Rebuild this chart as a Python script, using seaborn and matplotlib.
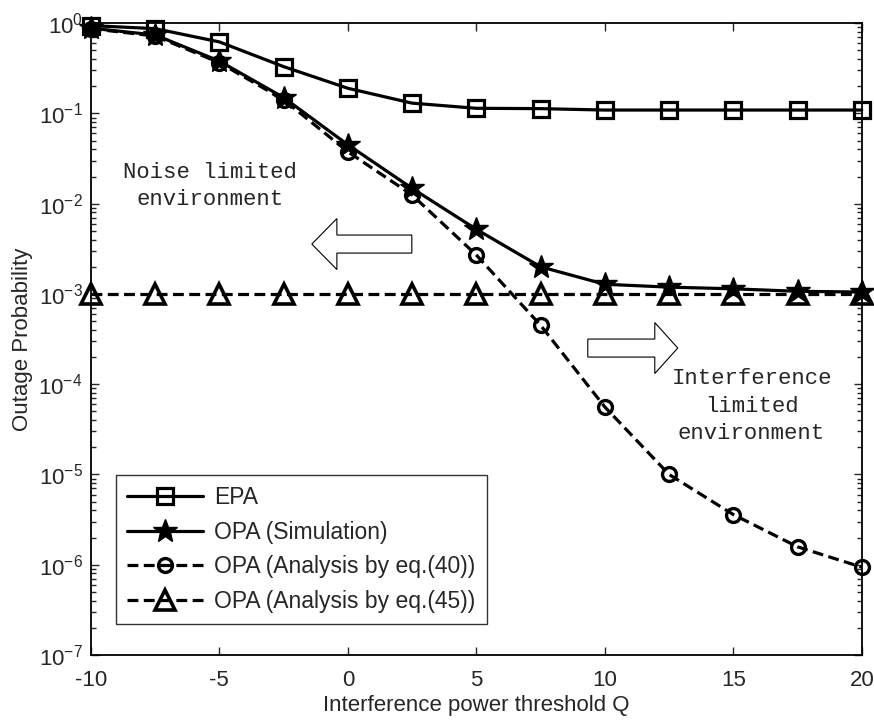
import matplotlib
matplotlib.use("Agg")
import matplotlib.pyplot as plt
import matplotlib.patches as mpatches
import seaborn as sns

# interference power threshold Q
q_values = [-10, -7.5, -5, -2.5, 0, 2.5, 5, 7.5, 10, 12.5, 15, 17.5, 20]

# outage probability for each scheme
epa = [0.94, 0.87, 0.62, 0.33, 0.19, 0.13, 0.114, 0.113, 0.109, 0.109, 0.109, 0.109, 0.109]
opa_sim = [0.88, 0.74, 0.38, 0.15, 0.045, 0.0148, 0.0052, 0.002, 0.00128, 0.00119, 0.00114, 0.00107, 0.00105]
opa_eq40 = [0.87, 0.72, 0.365, 0.142, 0.0376, 0.0125, 0.0027, 0.00045, 5.6e-5, 1.0e-5, 3.6e-6, 1.58e-6, 9.4e-7]
opa_eq45 = [1e-3, 1e-3, 1e-3, 1e-3, 1e-3, 1e-3, 1e-3, 1e-3, 1e-3, 1e-3, 1e-3, 1e-3, 1e-3]

series_labels = ["EPA", "OPA (Simulation)", "OPA (Analysis by eq.(40))", "OPA (Analysis by eq.(45))"]
xtick_values = [-10, -5, 0, 5, 10, 15, 20]

sns.set_style("ticks")
plt.rcParams['font.family'] = ['Liberation Sans', 'DejaVu Sans']
plt.rcParams['mathtext.default'] = 'regular'

fig = plt.figure(figsize=(8.74, 7.24), dpi=100)
ax = fig.add_axes([0.104, 0.0953, 0.882, 0.8727])

lw = 2.3
common = dict(color='black', linewidth=lw, clip_on=False, ax=ax)

sns.lineplot(x=q_values, y=epa, marker='s', markersize=12, markerfacecolor='none',
             markeredgecolor='black', markeredgewidth=2.3, label=series_labels[0], **common)
sns.lineplot(x=q_values, y=opa_sim, marker='*', markersize=18, markerfacecolor='black',
             markeredgecolor='black', markeredgewidth=1.0, label=series_labels[1], **common)
sns.lineplot(x=q_values, y=opa_eq40, marker='o', markersize=10, markerfacecolor='none',
             markeredgecolor='black', markeredgewidth=2.4, linestyle=(0, (3.4, 1.7)),
             label=series_labels[2], **common)
sns.lineplot(x=q_values, y=opa_eq45, marker='^', markersize=14, markerfacecolor='none',
             markeredgecolor='black', markeredgewidth=2.6, linestyle=(0, (3.4, 1.7)),
             label=series_labels[3], **common)

ax.set_yscale('log')
ax.set_xlim(-10, 20)
ax.set_ylim(1e-7, 1)
ax.set_xticks(xtick_values)
ax.set_xticklabels([str(v) for v in xtick_values])
ax.tick_params(which='both', direction='in', top=True, right=True, labelsize=16, width=1.0)
ax.tick_params(axis='x', which='major', length=6, pad=11)
ax.tick_params(axis='y', which='major', length=6, pad=6)
ax.tick_params(which='minor', length=3.5)
ax.minorticks_on()
ax.xaxis.set_minor_locator(matplotlib.ticker.NullLocator())
for s in ax.spines.values():
    s.set_linewidth(1.3)
    s.set_color('black')

ax.set_xlabel("Interference power threshold Q", fontsize=16, labelpad=3)
ax.set_ylabel("Outage Probability", fontsize=16, labelpad=4)

leg = ax.legend(loc='lower left', bbox_to_anchor=(0.032, 0.049), fontsize=16.5,
                frameon=True, fancybox=False, edgecolor='black', handlelength=3.3,
                labelspacing=0.5, borderpad=0.5, handletextpad=0.5,
                borderaxespad=0, numpoints=1)
leg.get_frame().set_linewidth(1.0)

# annotation text
mono = ['Liberation Mono', 'DejaVu Sans Mono']
ax.text(0.154, 0.742, "Noise limited\nenvironment", transform=ax.transAxes,
        ha='center', va='center', fontsize=16, family=mono, linespacing=1.4)
ax.text(0.857, 0.394, "Interference\nlimited\nenvironment", transform=ax.transAxes,
        ha='center', va='center', fontsize=16, family=mono, linespacing=1.4)

# hollow arrows
left_arrow = mpatches.FancyArrow(0.4163, 0.6504, -0.1297, 0, width=0.0285, head_width=0.0807,
                                 head_length=0.0325, length_includes_head=True,
                                 transform=ax.transAxes, facecolor='white',
                                 edgecolor='black', linewidth=0.8)
right_arrow = mpatches.FancyArrow(0.6446, 0.4858, 0.1167, 0, width=0.0285, head_width=0.0807,
                                  head_length=0.0298, length_includes_head=True,
                                  transform=ax.transAxes, facecolor='white',
                                  edgecolor='black', linewidth=0.8)
ax.add_patch(left_arrow)
ax.add_patch(right_arrow)

fig.savefig("out.png", dpi=100)
